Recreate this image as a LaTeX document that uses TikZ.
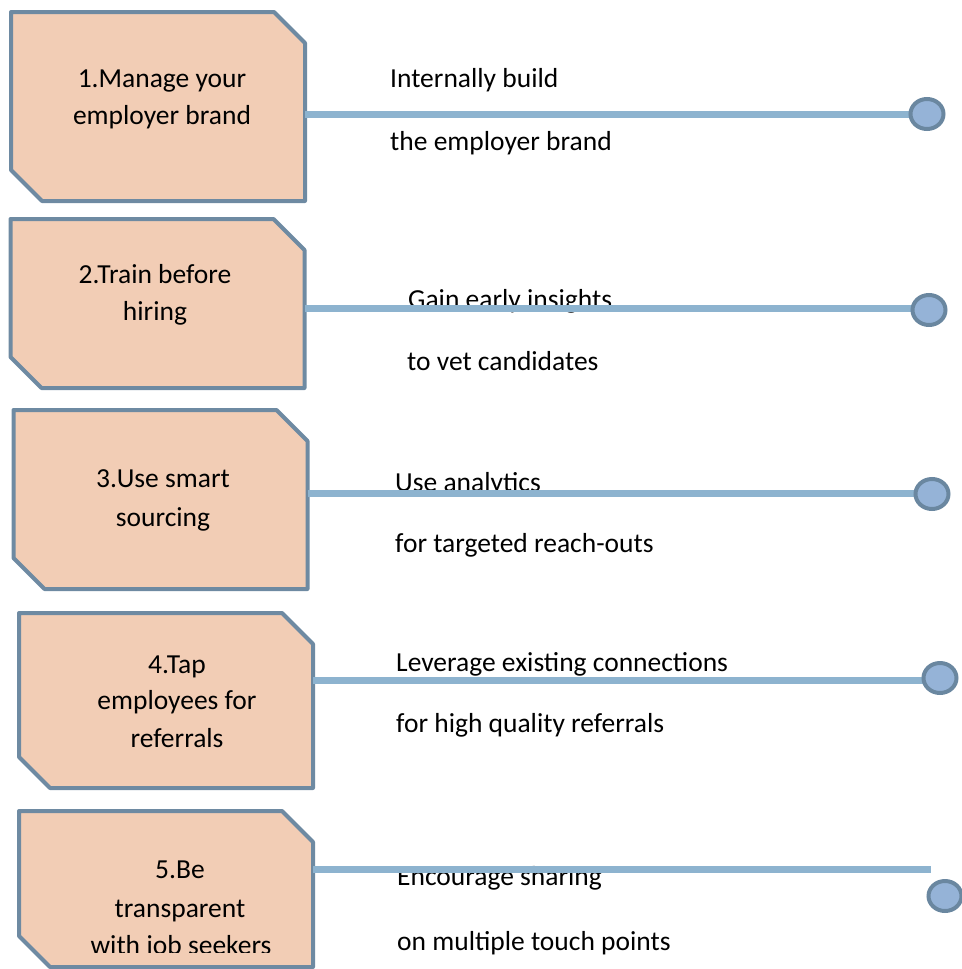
\documentclass[tikz,border=0pt]{standalone}
\usepackage{fontspec}
\setmainfont{Carlito}
\usetikzlibrary{shapes.geometric}
\definecolor{boxfill}{RGB}{242,205,181}
\definecolor{boxline}{RGB}{110,138,162}
\definecolor{linkcol}{RGB}{141,179,207}
\definecolor{dotfill}{RGB}{149,179,215}
\definecolor{dotline}{RGB}{106,135,160}
\tikzset{%
  stepbox/.style={rectangle, inner sep=0pt, outer sep=0pt, minimum width=294pt},
  boxedge/.style={draw=boxline, fill=boxfill, line width=4pt, line join=round},
  boxtxt/.style={anchor=base, inner sep=0pt, font=\fontsize{27.5}{33}\selectfont},
  sidetxt/.style={anchor=base west, inner sep=0pt, font=\fontsize{27.5}{33}\selectfont},
  link/.style={draw=linkcol, line width=7pt},
  dot/.style={ellipse, draw=dotline, fill=dotfill, line width=4pt,
    minimum width=33pt, minimum height=30pt, inner sep=0pt}
}

\begin{document}
\begin{tikzpicture}[x=1pt, y=-1pt]

\useasboundingbox (0,0) rectangle (961,969);

% boxes, cut at the top right and bottom left corners
\foreach \i/\x/\y/\h in {1/158/106.5/189, 2/157.5/303.5/169, 3/160.5/499.5/179,
                         4/166/700.5/175, 5/166/889/156} {
  \node [stepbox, minimum height=\h pt] (B\i) at (\x,\y) {};
  \path [boxedge] (B\i.north west) -- ([xshift=-31pt]B\i.north east)
    -- ([yshift=-31pt]B\i.north east) -- (B\i.south east)
    -- ([xshift=31pt]B\i.south west) -- ([yshift=31pt]B\i.south west) -- cycle;
}

% box labels
\foreach \x/\y/\t [count=\k] in {162/87/1.Manage your, 162/124/employer brand,
    155/283/2.Train before, 155/320/hiring,
    163/487/3.Use smart, 163/526/sourcing,
    177/673/4.Tap, 177/709/employees for, 177/747/referrals,
    180/878/5.Be, 180/917/transparent} {
  \node [boxtxt] (L\k) at (\x,\y) {\t};
}
\begin{scope}
  \clip (19,811) rectangle (313,952);
  \node [boxtxt] (L12) at (181,954) {with job seekers};
\end{scope}

% side labels
\foreach \x/\y/\t [count=\k] in {390/87/Internally build, 390/150/the employer brand,
    408/308/Gain early insights, 407/370/to vet candidates,
    395/491/Use analytics, 395/552/for targeted reach-outs,
    396/671/Leverage existing connections, 396/732/for high quality referrals,
    397/885/Encourage sharing, 397/950/on multiple touch points} {
  \node [sidetxt] (S\k) at (\x,\y) {\t};
}

% connectors and end dots
\foreach \i/\lx/\ly/\cx/\cy in {1/927/114/927/114, 2/929/308/929/310, 3/932/493/932/494,
                                4/940/680/940/678, 5/931/869/945/896} {
  \coordinate (E\i) at (\lx,\ly);
  \draw [link] (B\i.east |- E\i) -- (E\i);
  \node [dot] (C\i) at (\cx,\cy) {};
}

\end{tikzpicture}
\end{document}
